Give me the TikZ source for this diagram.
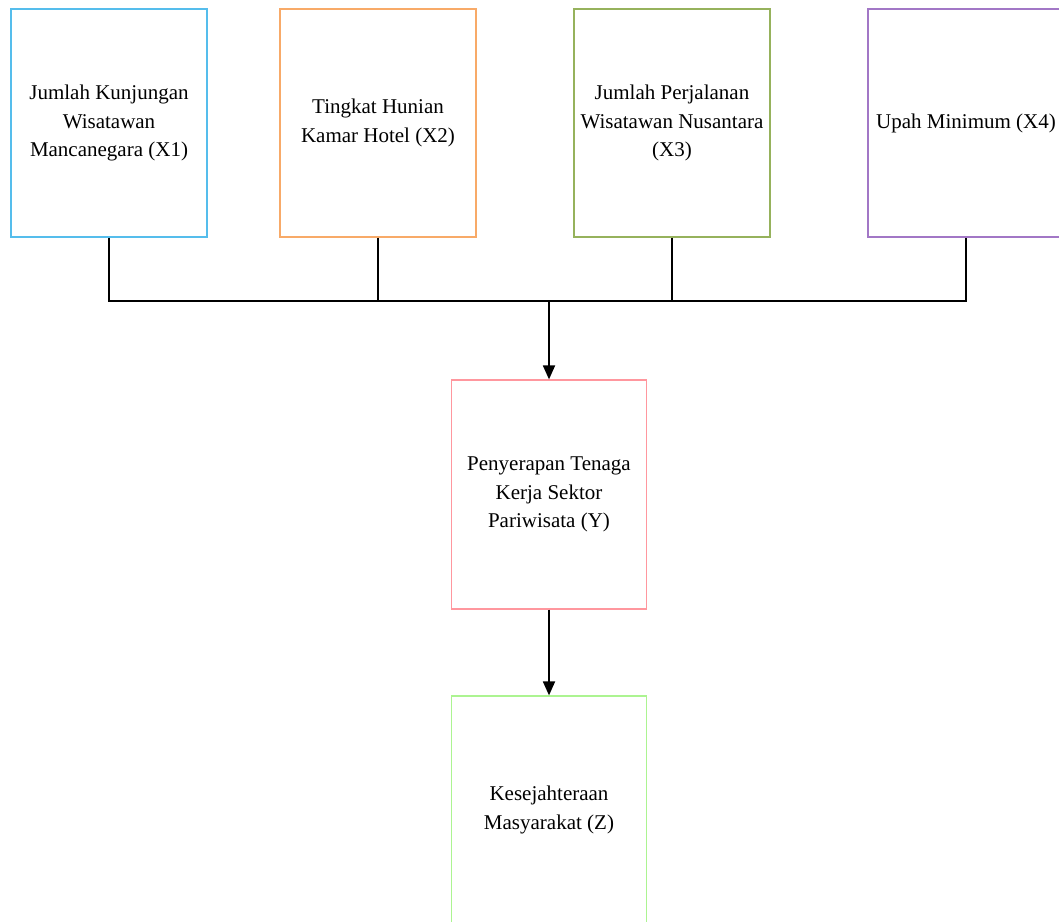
\documentclass[tikz,border=0pt]{standalone}
\usepackage{fontspec}
\setmainfont{Liberation Serif}
\usetikzlibrary{arrows.meta}
\definecolor{cX1}{HTML}{55BDEC}
\definecolor{cX2}{HTML}{F8AA68}
\definecolor{cX3}{HTML}{96B25C}
\definecolor{cX4}{HTML}{A277C6}
\definecolor{cY}{HTML}{FF979E}
\definecolor{cZ}{HTML}{ACF491}
\tikzset{
  vbox/.style={draw, line width=1.2pt, rectangle, minimum width=196pt, minimum height=228pt,
    align=center, inner sep=0pt, font=\fontsize{21}{28.5}\selectfont},
  conn/.style={line width=1.8pt, black},
  arr/.style={conn, -{Triangle[length=14pt,width=12pt]}}
}
\begin{document}
\begin{tikzpicture}[x=1pt,y=-1pt]
\useasboundingbox (0,0) rectangle (1059,921);
\clip (0,0) rectangle (1059,921);
\node[vbox, draw=cX1] (x1) at (109,123) {Jumlah Kunjungan\\Wisatawan\\Mancanegara (X1)};
\node[vbox, draw=cX2] (x2) at (378,123) {Tingkat Hunian\\Kamar Hotel (X2)};
\node[vbox, draw=cX3] (x3) at (672,123) {Jumlah Perjalanan\\Wisatawan Nusantara\\(X3)};
\node[vbox, draw=cX4] (x4) at (966,123) {Upah Minimum (X4)};
\node[vbox, draw=cY, minimum width=195pt, minimum height=229pt] (y) at (549,494.5) {Penyerapan Tenaga\\Kerja Sektor\\Pariwisata (Y)};
\node[vbox, draw=cZ, minimum width=195pt, minimum height=228pt] (z) at (549,810) {Kesejahteraan\\Masyarakat (Z)};
\coordinate (h1) at (x1.south |- 0,301);
\coordinate (h2) at (x2.south |- 0,301);
\coordinate (h3) at (x3.south |- 0,301);
\coordinate (h4) at (x4.south |- 0,301);
\coordinate (hy) at (y.north |- 0,301);
\draw[conn] (x1.south) -- (h1) -- (h4) -- (x4.south);
\draw[conn] (x2.south) -- (h2);
\draw[conn] (x3.south) -- (h3);
\draw[arr] (hy) -- (y.north);
\draw[arr] (y.south) -- (z.north);
\end{tikzpicture}
\end{document}
